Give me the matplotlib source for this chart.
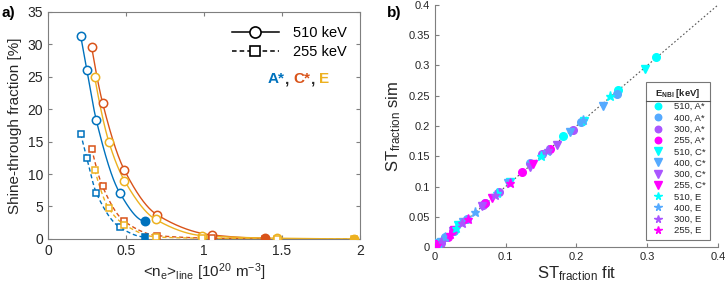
import numpy as np
import matplotlib
matplotlib.use("Agg")
import matplotlib.pyplot as plt
from matplotlib.lines import Line2D

plt.rcParams['font.family'] = ['Liberation Sans', 'DejaVu Sans']
plt.rcParams['mathtext.fontset'] = 'custom'
plt.rcParams['mathtext.rm'] = 'Liberation Sans'
plt.rcParams['mathtext.it'] = 'Liberation Sans:italic'
plt.rcParams['mathtext.bf'] = 'Liberation Sans:bold'

# ---------------- Panel a data ----------------
scenarios = ["A*", "C*", "E"]
a_colors = ["#0072BD", "#D95319", "#EDB120"]

ne_A = [0.21, 0.25, 0.31, 0.46, 0.62]
st510_A = [31.3, 26.0, 18.3, 7.1, 2.7]
st255_A = [16.2, 12.4, 7.1, 1.8, 0.3]

ne_C = [0.28, 0.35, 0.49, 0.70, 1.05, 1.39]
st510_C = [29.6, 21.0, 10.6, 3.7, 0.6, 0.1]
st255_C = [13.9, 8.1, 2.7, 0.5, 0.1, 0.0]

ne_E = [0.30, 0.39, 0.49, 0.69, 0.99, 1.47, 1.96]
st510_E = [24.9, 15.0, 9.0, 3.0, 0.5, 0.1, 0.0]
st255_E = [10.6, 4.7, 2.2, 0.3, 0.1, 0.0, 0.0]

# ---------------- Panel b data ----------------
energies = ["510", "400", "300", "255"]
fit_510_A = [0.313, 0.259, 0.181, 0.071, 0.027]
sim_510_A = [0.314, 0.260, 0.183, 0.072, 0.026]
fit_400_A = [0.257, 0.207, 0.135, 0.045, 0.015]
sim_400_A = [0.253, 0.206, 0.139, 0.046, 0.016]
fit_300_A = [0.195, 0.151, 0.090, 0.068, 0.025, 0.008]
sim_300_A = [0.194, 0.153, 0.091, 0.070, 0.027, 0.007]
fit_255_A = [0.163, 0.123, 0.071, 0.018, 0.003]
sim_255_A = [0.162, 0.124, 0.072, 0.017, 0.002]

fit_510_C = [0.297, 0.210, 0.106, 0.033, 0.006, 0.001]
sim_510_C = [0.295, 0.209, 0.107, 0.036, 0.006, 0.001]
fit_400_C = [0.238, 0.191, 0.104, 0.040, 0.008, 0.001]
sim_400_C = [0.233, 0.190, 0.106, 0.041, 0.009, 0.001]
fit_300_C = [0.173, 0.134, 0.066, 0.026, 0.004, 0.000]
sim_300_C = [0.168, 0.133, 0.068, 0.027, 0.005, 0.000]
fit_255_C = [0.139, 0.080, 0.027, 0.005, 0.001, 0.000]
sim_255_C = [0.138, 0.081, 0.028, 0.005, 0.001, 0.000]

fit_510_E = [0.248, 0.150, 0.088, 0.030, 0.005, 0.001, 0.000]
sim_510_E = [0.249, 0.151, 0.090, 0.031, 0.005, 0.001, 0.000]
fit_400_E = [0.209, 0.158, 0.057, 0.015, 0.002, 0.000, 0.000]
sim_400_E = [0.210, 0.159, 0.058, 0.016, 0.002, 0.000, 0.000]
fit_300_E = [0.160, 0.085, 0.038, 0.008, 0.001, 0.000, 0.000]
sim_300_E = [0.160, 0.086, 0.039, 0.009, 0.001, 0.000, 0.000]
fit_255_E = [0.106, 0.047, 0.022, 0.003, 0.001, 0.000, 0.000]
sim_255_E = [0.106, 0.046, 0.022, 0.003, 0.001, 0.000, 0.000]

b_fit = {"A*": [fit_510_A, fit_400_A, fit_300_A, fit_255_A],
         "C*": [fit_510_C, fit_400_C, fit_300_C, fit_255_C],
         "E": [fit_510_E, fit_400_E, fit_300_E, fit_255_E]}
b_sim = {"A*": [sim_510_A, sim_400_A, sim_300_A, sim_255_A],
         "C*": [sim_510_C, sim_400_C, sim_300_C, sim_255_C],
         "E": [sim_510_E, sim_400_E, sim_300_E, sim_255_E]}
b_markers = {"A*": ("o", 5.5), "C*": ("v", 6), "E": ("*", 6.5)}


def pchip(x, y, xs):
    """Monotone cubic (Fritsch-Carlson) interpolation through the data points."""
    x = np.asarray(x, float)
    y = np.asarray(y, float)
    h = np.diff(x)
    d = np.diff(y) / h
    n = len(x)
    m = np.zeros(n)
    for k in range(1, n - 1):
        if d[k - 1] * d[k] > 0:
            w1 = 2 * h[k] + h[k - 1]
            w2 = h[k] + 2 * h[k - 1]
            m[k] = (w1 + w2) / (w1 / d[k - 1] + w2 / d[k])
    m0 = ((2 * h[0] + h[1]) * d[0] - h[0] * d[1]) / (h[0] + h[1])
    m[0] = m0 if np.sign(m0) == np.sign(d[0]) else 0.0
    mn = ((2 * h[-1] + h[-2]) * d[-1] - h[-1] * d[-2]) / (h[-1] + h[-2])
    m[-1] = mn if np.sign(mn) == np.sign(d[-1]) else 0.0
    idx = np.clip(np.searchsorted(x, xs) - 1, 0, n - 2)
    t = (xs - x[idx]) / h[idx]
    h00 = 2 * t**3 - 3 * t**2 + 1
    h10 = t**3 - 2 * t**2 + t
    h01 = -2 * t**3 + 3 * t**2
    h11 = t**3 - t**2
    return h00 * y[idx] + h10 * h[idx] * m[idx] + h01 * y[idx + 1] + h11 * h[idx] * m[idx + 1]


fig = plt.figure(figsize=(7.26, 2.92), dpi=100)
gray = "#7f7f7f"
tcol = "#262626"

# ---------------- Panel a ----------------
ax = fig.add_axes([0.066, 0.182, 0.430, 0.777])
groups = [(ne_A, st510_A, st255_A), (ne_C, st510_C, st255_C), (ne_E, st510_E, st255_E)]
for (ne, s510, s255), col in zip(groups, a_colors):
    ne = np.array(ne)
    for vals, ls, mk in ((np.array(s510), '-', 'o'), (np.array(s255), '--', 's')):
        xs = np.linspace(ne[0], ne[-1], 400)
        ax.plot(xs, pchip(ne, vals, xs), color=col, lw=1.0,
                ls='--' if ls == '--' else '-',
                **({'dashes': (3, 2)} if ls == '--' else {}))
        ms = 6 if mk == 'o' else 5
        ax.plot(ne[:-1], vals[:-1], mk, color=col, mfc='white', mew=1.1,
                ms=ms, ls='none', zorder=3)
        ax.plot(ne[-1:], vals[-1:], mk, color=col, mfc=col, mew=1.1,
                ms=ms, ls='none', zorder=3)

ax.set_xlim(0, 2)
ax.set_ylim(0, 35)
ax.set_xticks([0, 0.5, 1, 1.5, 2])
ax.set_xticklabels(["0", "0.5", "1", "1.5", "2"])
ax.set_yticks(range(0, 36, 5))
for s in ax.spines.values():
    s.set_color(gray)
    s.set_linewidth(0.8)
ax.tick_params(direction='in', length=3, colors=gray, labelcolor=tcol, labelsize=10,
               top=True, right=True)
ax.set_xlabel(r'<n$_\mathrm{e}$>$_\mathrm{line}$ [10$^{20}$ m$^{-3}$]', fontsize=11, color=tcol, labelpad=3)
ax.set_ylabel('Shine-through fraction [%]', fontsize=11, color=tcol, labelpad=4)

h1 = Line2D([], [], color='black', ls='-', marker='o', mfc='white', ms=8, mew=1.2, lw=1.1)
h2 = Line2D([], [], color='black', ls='--', marker='s', mfc='white', ms=7, mew=1.2, lw=1.1, dashes=(3, 2))
ax.legend([h1, h2], ['510 keV', '255 keV'], loc='upper right', bbox_to_anchor=(1.0, 0.995),
          frameon=False, handlelength=3.2, fontsize=10.5, labelspacing=0.35, handletextpad=1.0)
x0 = 1.41
t = ax.text(x0, 24.6, "A*", color=a_colors[0], fontsize=11, fontweight='bold', va='center')
fig.canvas.draw()
t2 = ax.annotate(", ", xy=(1, 0), xycoords=t, color=tcol, fontsize=11, fontweight='bold', va='bottom')
t3 = ax.annotate("C*", xy=(1, 0), xycoords=t2, color=a_colors[1], fontsize=11, fontweight='bold', va='bottom')
t4 = ax.annotate(", ", xy=(1, 0), xycoords=t3, color=tcol, fontsize=11, fontweight='bold', va='bottom')
t5 = ax.annotate("E", xy=(1, 0), xycoords=t4, color=a_colors[2], fontsize=11, fontweight='bold', va='bottom')

fig.text(0.002, 0.955, "a)", fontsize=11, fontweight='bold', color='black', va='center')
fig.text(0.533, 0.955, "b)", fontsize=11, fontweight='bold', color='black', va='center')

# ---------------- Panel b ----------------
bx = fig.add_axes([0.599, 0.154, 0.390, 0.829])
bx.plot([0, 0.4], [0, 0.4], ls=(0, (1.5, 2)), color='#555555', lw=0.8, zorder=1)
cmap = plt.cm.cool
handles, labels = [], []
for sc in scenarios:
    mk, ms = b_markers[sc]
    for i, en in enumerate(energies):
        col = cmap(i / 3)
        h, = bx.plot(b_fit[sc][i], b_sim[sc][i], mk, color=col, ms=ms, mec=col, ls='none', zorder=3)
        handles.append(h)
        labels.append(f"{en}, {sc}")
bx.set_xlim(0, 0.4)
bx.set_ylim(0, 0.4)
bx.set_xticks([0, 0.1, 0.2, 0.3, 0.4])
bx.set_xticklabels(["0", "0.1", "0.2", "0.3", "0.4"])
bx.set_yticks(np.arange(0, 0.401, 0.05))
bx.set_yticklabels(["0", "0.05", "0.1", "0.15", "0.2", "0.25", "0.3", "0.35", "0.4"])
for k in ('top', 'right'):
    bx.spines[k].set_visible(False)
for k in ('left', 'bottom'):
    bx.spines[k].set_color(gray)
    bx.spines[k].set_linewidth(0.8)
bx.tick_params(direction='in', length=3, colors=gray, labelcolor=tcol, labelsize=8)
bx.set_xlabel(r'ST$_\mathrm{fraction}$ fit', fontsize=12, color=tcol, labelpad=2)
bx.set_ylabel(r'ST$_\mathrm{fraction}$ sim', fontsize=12, color=tcol, labelpad=4)

leg = bx.legend(handles, labels, loc='upper left', bbox_to_anchor=(0.730, 0.70),
                title=r'E$_\mathbf{NBI}$ [keV]', title_fontproperties={'weight': 'bold', 'size': 6.8},
                fontsize=6.8, frameon=True, fancybox=False, edgecolor='#555555',
                handlelength=1.5, handletextpad=0.9, labelspacing=0.24, borderpad=0.5,
                markerscale=0.85)
leg.get_frame().set_linewidth(0.8)
leg.get_title().set_color(tcol)
for txt in leg.get_texts():
    txt.set_color(tcol)

fig.canvas.draw()
rend = fig.canvas.get_renderer()
fb = leg.get_frame().get_window_extent(rend)
tb = leg.get_title().get_window_extent(rend)
e0 = leg.get_texts()[0].get_window_extent(rend)
yline = 0.5 * (tb.y0 + e0.y1) + 0.5
inv = fig.transFigure.inverted()
p0 = inv.transform((fb.x0, yline))
p1 = inv.transform((fb.x1, yline))
fig.add_artist(Line2D([p0[0], p1[0]], [p0[1], p1[1]], color='#555555', lw=0.8))

fig.savefig("out.png", dpi=100)
